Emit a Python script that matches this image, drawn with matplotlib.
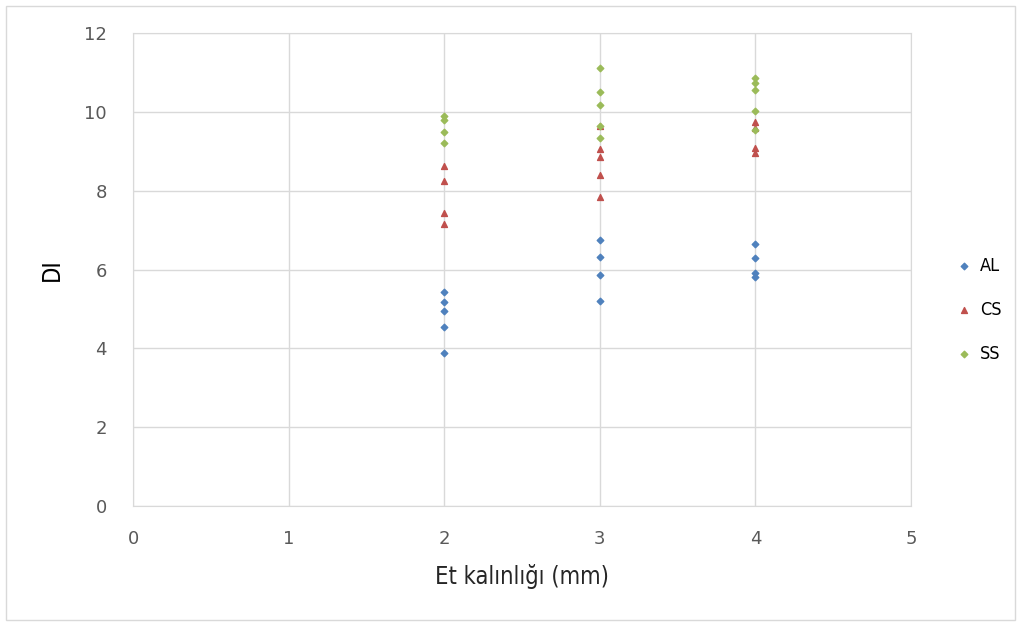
import matplotlib.pyplot as plt
from matplotlib.patches import Rectangle

# Data
al_x = [2, 2, 2, 2, 2, 3, 3, 3, 3, 4, 4, 4, 4]
al_y = [5.43, 5.17, 4.95, 4.54, 3.88, 6.75, 6.32, 5.86, 5.2, 6.65, 6.3, 5.9, 5.82]

cs_x = [2, 2, 2, 2, 3, 3, 3, 3, 3, 4, 4, 4, 4]
cs_y = [8.62, 8.24, 7.43, 7.15, 9.65, 9.05, 8.85, 8.4, 7.85, 9.75, 9.6, 9.08, 8.95]

ss_x = [2, 2, 2, 2, 3, 3, 3, 3, 3, 4, 4, 4, 4, 4]
ss_y = [9.9, 9.8, 9.5, 9.22, 11.1, 10.5, 10.17, 9.64, 9.34, 10.86, 10.72, 10.55, 10.03, 9.54]

xticks = [0, 1, 2, 3, 4, 5]
yticks = [0, 2, 4, 6, 8, 10, 12]

font = dict(family='DejaVu Sans', stretch='condensed')

fig = plt.figure(figsize=(10.21, 6.23), dpi=100)
fig.patches.append(Rectangle((0.006, 0.005), 0.988, 0.985, transform=fig.transFigure,
                             fill=False, edgecolor='#D9D9D9', linewidth=1))
ax = fig.add_axes([0.1303, 0.1878, 0.7620, 0.7592])

ax.scatter(al_x, al_y, marker='D', s=11, color='#4F81BD', label='AL', zorder=3)
ax.scatter(cs_x, cs_y, marker='^', s=18, color='#C0504D', label='CS', zorder=3)
ax.scatter(ss_x, ss_y, marker='D', s=11, color='#9BBB59', label='SS', zorder=3)

ax.set_xlim(0, 5)
ax.set_ylim(0, 12)
ax.set_xticks(xticks)
ax.set_yticks(yticks)
ax.grid(True, color='#D9D9D9', linewidth=1)
ax.set_axisbelow(True)
for s in ax.spines.values():
    s.set_color('#D9D9D9')
ax.tick_params(length=0, colors='#595959', labelsize=13)
ax.tick_params(axis='x', pad=17)
ax.tick_params(axis='y', pad=19)

ax.set_xlabel('Et kalınlığı (mm)', fontsize=17, color='#262626', labelpad=12, **font)
ax.set_ylabel('DI', fontsize=17, color='black', labelpad=14, **font)

ax.legend(loc='center left', bbox_to_anchor=(1.035, 0.415), frameon=False,
          handlelength=1.0, handletextpad=0.4, labelspacing=1.45,
          prop=dict(family='DejaVu Sans', stretch='condensed', size=13))

fig.savefig('out.png', dpi=100)
